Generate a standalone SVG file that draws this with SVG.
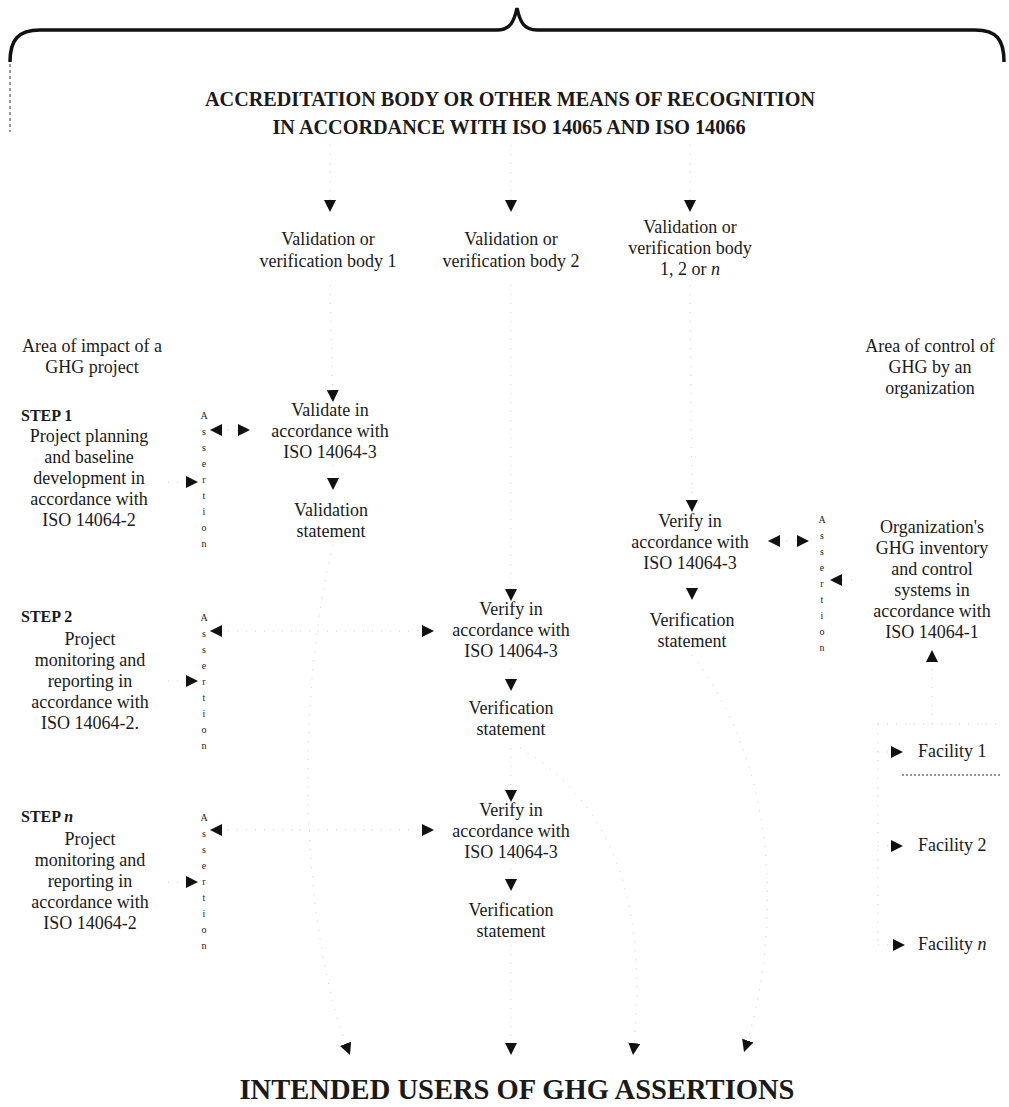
<svg xmlns="http://www.w3.org/2000/svg" width="1009" height="1107" viewBox="0 0 1009 1107">
<defs>
<marker id="ah" viewBox="0 0 10 10" refX="10" refY="5" markerWidth="12" markerHeight="12" markerUnits="userSpaceOnUse" orient="auto-start-reverse"><path d="M0,0 L10,5 L0,10 z" fill="#111"/></marker>
<style>
text{font-family:"Liberation Serif","Times New Roman",serif;fill:#1a1a1a;}
.t{font-size:18px;text-anchor:middle;}
.h{font-weight:bold;font-size:21px;text-anchor:middle;}
.s{font-weight:bold;font-size:16px;}
.a{font-size:10px;text-anchor:middle;fill:#222;}
.c{fill:none;stroke:#d0d0d0;stroke-width:1;stroke-dasharray:1 8;}
.ca{fill:none;stroke:#d0d0d0;stroke-width:1;stroke-dasharray:1 8;marker-end:url(#ah);}
.cb{fill:none;stroke:#d0d0d0;stroke-width:1;stroke-dasharray:1 8;marker-start:url(#ah);marker-end:url(#ah);}
</style>
</defs>
<rect width="1009" height="1107" fill="#fff"/>

<g id="brace">
<path d="M10,62 C10,40 18,30 40,30 L497,30 C510,30 514,22 517,8 C520,22 524,30 537,30 L975,30 C997,30 1004,40 1004,62" fill="none" stroke="#111" stroke-width="3.5"/>
<path d="M10,64 L10,132" fill="none" stroke="#333" stroke-width="1" stroke-dasharray="3 3"/>
</g>

<g id="accreditation">
<text class="h" x="510" y="106" textLength="610" lengthAdjust="spacingAndGlyphs">ACCREDITATION BODY OR OTHER MEANS OF RECOGNITION</text>
<text class="h" x="509" y="134" textLength="473" lengthAdjust="spacingAndGlyphs">IN ACCORDANCE WITH ISO 14065 AND ISO 14066</text>
</g>

<g id="body1"><text class="t" x="328" y="245"><tspan x="328">Validation or</tspan><tspan x="328" dy="22">verification body 1</tspan></text></g>
<g id="body2"><text class="t" x="511" y="245"><tspan x="511">Validation or</tspan><tspan x="511" dy="22">verification body 2</tspan></text></g>
<g id="body3"><text class="t" x="690" y="233"><tspan x="690">Validation or</tspan><tspan x="690" dy="21">verification body</tspan><tspan x="690" dy="21">1, 2 or <tspan font-style="italic">n</tspan></tspan></text></g>

<g id="area-impact"><text class="t" x="92" y="352"><tspan x="92">Area of impact of a</tspan><tspan x="92" dy="21">GHG project</tspan></text></g>
<g id="area-control"><text class="t" x="930" y="352"><tspan x="930">Area of control of</tspan><tspan x="930" dy="21">GHG by an</tspan><tspan x="930" dy="21">organization</tspan></text></g>

<g id="step1">
<text class="s" x="21" y="421">STEP 1</text>
<text class="t" x="89" y="442"><tspan x="89">Project planning</tspan><tspan x="89" dy="21">and baseline</tspan><tspan x="89" dy="21">development in</tspan><tspan x="89" dy="21">accordance with</tspan><tspan x="89" dy="21">ISO 14064-2</tspan></text>
</g>
<g id="assertion1"><text class="a" x="204" y="419"><tspan x="204">A</tspan><tspan x="204" dy="16">s</tspan><tspan x="204" dy="16">s</tspan><tspan x="204" dy="16">e</tspan><tspan x="204" dy="16">r</tspan><tspan x="204" dy="16">t</tspan><tspan x="204" dy="16">i</tspan><tspan x="204" dy="16">o</tspan><tspan x="204" dy="16">n</tspan></text></g>
<g id="validate"><text class="t" x="330" y="416"><tspan x="330">Validate in</tspan><tspan x="330" dy="21">accordance with</tspan><tspan x="330" dy="21">ISO 14064-3</tspan></text></g>
<g id="validation-statement"><text class="t" x="331" y="516"><tspan x="331">Validation</tspan><tspan x="331" dy="21">statement</tspan></text></g>

<g id="verify3"><text class="t" x="690" y="527"><tspan x="690">Verify in</tspan><tspan x="690" dy="21">accordance with</tspan><tspan x="690" dy="21">ISO 14064-3</tspan></text></g>
<g id="verification-statement3"><text class="t" x="692" y="626"><tspan x="692">Verification</tspan><tspan x="692" dy="21">statement</tspan></text></g>
<g id="assertion3"><text class="a" x="822" y="523"><tspan x="822">A</tspan><tspan x="822" dy="16">s</tspan><tspan x="822" dy="16">s</tspan><tspan x="822" dy="16">e</tspan><tspan x="822" dy="16">r</tspan><tspan x="822" dy="16">t</tspan><tspan x="822" dy="16">i</tspan><tspan x="822" dy="16">o</tspan><tspan x="822" dy="16">n</tspan></text></g>
<g id="organization"><text class="t" x="932" y="533"><tspan x="932">Organization's</tspan><tspan x="932" dy="21">GHG inventory</tspan><tspan x="932" dy="21">and control</tspan><tspan x="932" dy="21">systems in</tspan><tspan x="932" dy="21">accordance with</tspan><tspan x="932" dy="21">ISO 14064-1</tspan></text></g>

<g id="step2">
<text class="s" x="21" y="622">STEP 2</text>
<text class="t" x="90" y="645"><tspan x="90">Project</tspan><tspan x="90" dy="21">monitoring and</tspan><tspan x="90" dy="21">reporting in</tspan><tspan x="90" dy="21">accordance with</tspan><tspan x="90" dy="21">ISO 14064-2.</tspan></text>
</g>
<g id="assertion2"><text class="a" x="204" y="621"><tspan x="204">A</tspan><tspan x="204" dy="16">s</tspan><tspan x="204" dy="16">s</tspan><tspan x="204" dy="16">e</tspan><tspan x="204" dy="16">r</tspan><tspan x="204" dy="16">t</tspan><tspan x="204" dy="16">i</tspan><tspan x="204" dy="16">o</tspan><tspan x="204" dy="16">n</tspan></text></g>
<g id="verify2"><text class="t" x="511" y="615"><tspan x="511">Verify in</tspan><tspan x="511" dy="21">accordance with</tspan><tspan x="511" dy="21">ISO 14064-3</tspan></text></g>
<g id="verification-statement2"><text class="t" x="511" y="714"><tspan x="511">Verification</tspan><tspan x="511" dy="21">statement</tspan></text></g>

<g id="stepn">
<text class="s" x="21" y="822">STEP <tspan font-style="italic">n</tspan></text>
<text class="t" x="90" y="845"><tspan x="90">Project</tspan><tspan x="90" dy="21">monitoring and</tspan><tspan x="90" dy="21">reporting in</tspan><tspan x="90" dy="21">accordance with</tspan><tspan x="90" dy="21">ISO 14064-2</tspan></text>
</g>
<g id="assertionn"><text class="a" x="204" y="821"><tspan x="204">A</tspan><tspan x="204" dy="16">s</tspan><tspan x="204" dy="16">s</tspan><tspan x="204" dy="16">e</tspan><tspan x="204" dy="16">r</tspan><tspan x="204" dy="16">t</tspan><tspan x="204" dy="16">i</tspan><tspan x="204" dy="16">o</tspan><tspan x="204" dy="16">n</tspan></text></g>
<g id="verifyn"><text class="t" x="511" y="816"><tspan x="511">Verify in</tspan><tspan x="511" dy="21">accordance with</tspan><tspan x="511" dy="21">ISO 14064-3</tspan></text></g>
<g id="verification-statementn"><text class="t" x="511" y="916"><tspan x="511">Verification</tspan><tspan x="511" dy="21">statement</tspan></text></g>

<g id="facility1"><text class="t" x="918" y="757" style="text-anchor:start">Facility 1</text></g>
<g id="facility2"><text class="t" x="918" y="851" style="text-anchor:start">Facility 2</text></g>
<g id="facilityn"><text class="t" x="918" y="950" style="text-anchor:start">Facility <tspan font-style="italic">n</tspan></text></g>
<g id="facility-box">
<path class="c" d="M878,724 L1002,724"/>
<path d="M902,775 L1002,775" fill="none" stroke="#333" stroke-width="1" stroke-dasharray="2 2"/>
</g>

<g id="users"><text x="517" y="1099" text-anchor="middle" font-weight="bold" font-size="29" textLength="555" lengthAdjust="spacingAndGlyphs">INTENDED USERS OF GHG ASSERTIONS</text></g>

<g id="connectors">
<path class="ca" d="M330,145 L330,212"/>
<path class="ca" d="M511,145 L511,212"/>
<path class="ca" d="M690,145 L690,212"/>
<path class="ca" d="M330,285 L333,402"/>
<path class="ca" d="M333,465 L333,490"/>
<path class="ca" d="M511,285 L511,601"/>
<path class="ca" d="M511,660 L511,691"/>
<path class="ca" d="M511,748 L511,802"/>
<path class="ca" d="M511,860 L511,891"/>
<path class="ca" d="M690,285 L692,512"/>
<path class="ca" d="M692,575 L692,600"/>
<path class="ca" d="M333,545 C295,700 300,930 350,1055"/>
<path class="ca" d="M520,748 C610,800 650,900 633,1055"/>
<path class="ca" d="M511,945 L511,1055"/>
<path class="ca" d="M692,655 C790,780 775,960 744,1052"/>
<path class="ca" d="M168,482 L198,482"/>
<path class="cb" d="M210,430 L250,430"/>
<path class="ca" d="M168,681 L198,681"/>
<path class="cb" d="M210,631 L434,631"/>
<path class="ca" d="M168,882 L198,882"/>
<path class="cb" d="M210,830 L434,830"/>
<path class="cb" d="M768,541 L809,541"/>
<path class="ca" d="M852,580 L830,580"/>
<path class="ca" d="M932,724 L932,650"/>
<path class="c" d="M878,724 L878,945"/>
<path class="ca" d="M878,752 L903,752"/>
<path class="ca" d="M878,846 L903,846"/>
<path class="ca" d="M878,945 L905,945"/>
</g>
</svg>
